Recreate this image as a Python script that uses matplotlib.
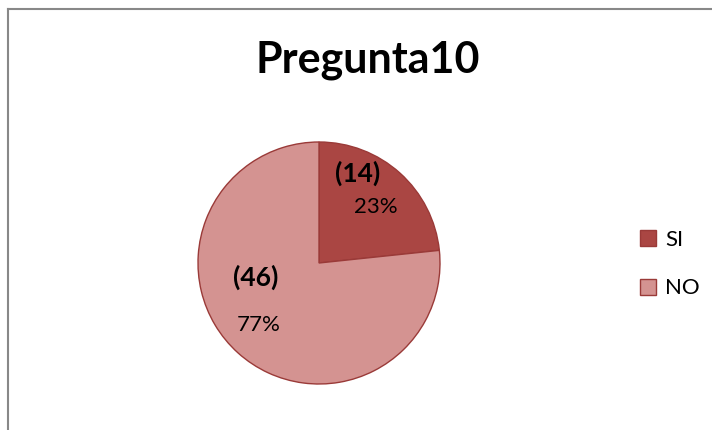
import matplotlib
matplotlib.use("Agg")
import matplotlib.pyplot as plt
from matplotlib.lines import Line2D
from matplotlib.patches import Patch

title = "Pregunta10"
categories = ["SI", "NO"]
counts = [14, 46]
percents = ["23%", "77%"]
colors = ["#AA4643", "#D49391"]
edge = "#9A3A38"

plt.rcParams['font.family'] = ['Lato', 'DejaVu Sans']

fig = plt.figure(figsize=(7.12, 4.30), dpi=100)
W, H = 712, 430
cx, cy, r = 319, 430 - 263, 121
ax = fig.add_axes([(cx - r) / W, (cy - r) / H, 2 * r / W, 2 * r / H])
ax.pie(counts, colors=colors, startangle=90, counterclock=False,
       wedgeprops=dict(edgecolor=edge, linewidth=1.0), radius=1.0)
ax.set_xlim(-1, 1)
ax.set_ylim(-1, 1)
ax.set_aspect('equal')
ax.axis('off')

# label positions (data coords of the pie axes)
count_pos = [(0.32, 0.74), (-0.52, -0.12)]
pct_pos = [(0.47, 0.46), (-0.50, -0.51)]
for c, p, cp, pp in zip(counts, percents, count_pos, pct_pos):
    ax.text(*cp, f"({c})", ha='center', va='center', fontsize=19, fontweight='bold', color='black')
    ax.text(*pp, p, ha='center', va='center', fontsize=16, color='black')

fig.text(368 / W, 1 - 60 / H, title, ha='center', va='center', fontsize=31, fontweight='bold')

handles = [Patch(facecolor=col, edgecolor=edge, linewidth=1.0) for col in colors]
fig.legend(handles, categories, loc='center left', bbox_to_anchor=(640 / W, 1 - 264 / H),
           frameon=False, fontsize=16, handlelength=0.72, handleheight=0.72,
           handletextpad=0.4, labelspacing=1.3, borderpad=0, borderaxespad=0)

# chart border (top and left visible)
fig.add_artist(Line2D([8 / W, 1.0], [1 - 9 / H, 1 - 9 / H], color='#888888', linewidth=1.5,
                      transform=fig.transFigure))
fig.add_artist(Line2D([8 / W, 8 / W], [0, 1 - 9 / H], color='#888888', linewidth=1.5,
                      transform=fig.transFigure))

fig.savefig("out.png", dpi=100, facecolor='white')
